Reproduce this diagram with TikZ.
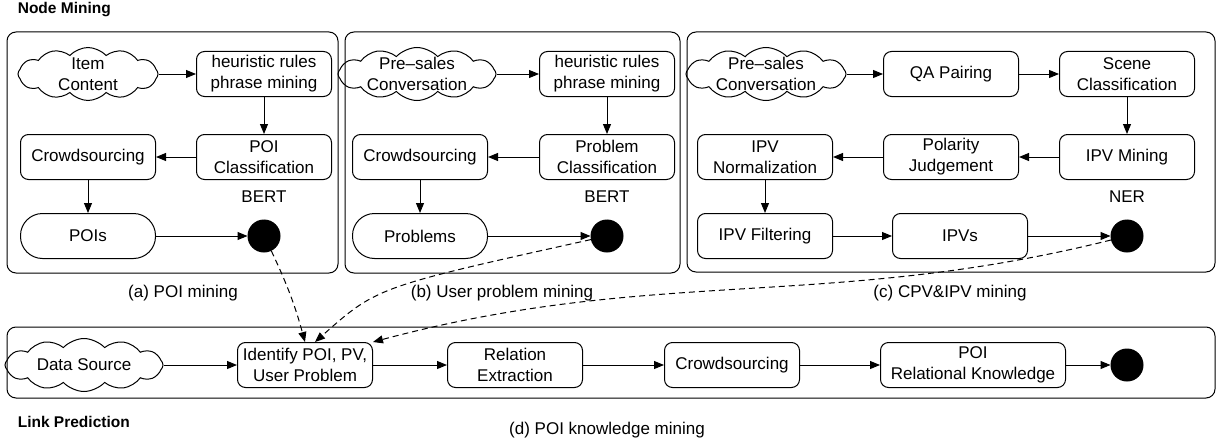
\documentclass[tikz,border=0pt]{standalone}
\usepackage{fontspec}
\setmainfont{Liberation Sans}
\usetikzlibrary{positioning,shapes.symbols,arrows.meta}

\newcommand\diagfont{\fontsize{17}{21}\selectfont}
\newcommand\headfont{\fontsize{15.5}{18}\selectfont\bfseries}

\tikzset{
  procbox/.style={draw, rectangle, rounded corners=8pt, align=center,
    minimum width=135pt, minimum height=45pt, inner sep=2pt},
  termbox/.style={procbox, rounded corners=22pt},
  srccloud/.style={draw, cloud, cloud puffs=12, cloud puff arc=95,
    cloud ignores aspect, minimum width=158pt, minimum height=53pt,
    inner sep=0pt},
  cloudtext/.style={label={[align=center]center:#1}},
  sinknode/.style={draw, circle, fill=black, minimum size=32pt, inner sep=0pt},
  panel/.style={draw, rounded corners=9pt},
  linkline/.style={dash pattern=on 6pt off 4pt},
}

\begin{document}
\begin{tikzpicture}[x=1pt, y=1pt, line width=1pt, >={Triangle[length=10pt,width=8pt]},
    every node/.style={font=\diagfont}]
        \useasboundingbox (0,0) rectangle (1225,-444);

        % Panels
        \draw [panel] (7,-32) rectangle (338,-273);
        \draw [panel] (345,-32) rectangle (680,-273);
        \draw [panel] (687,-32) rectangle (1215,-272);
        \draw [panel] (7,-327) rectangle (1215,-398);
        \node (nodetitle) [anchor=west, font=\headfont] at (14,-10) {Node Mining};
        \node (linktitle) [anchor=west, font=\headfont] at (14,-422) {Link Prediction};

        % (a) POI mining
        \node (itemsrc) [srccloud, minimum width=140pt, cloudtext={Item\\Content}] at (88,-74) {};
        \node (heurA) [procbox, right of=itemsrc, node distance=176pt] {heuristic rules\\phrase mining};
        \node (poicls) [procbox, below of=heurA, node distance=83pt] {POI\\Classification};
        \node (crowdA) [procbox, left of=poicls, node distance=176pt] {Crowdsourcing};
        \node (pois) [termbox, below of=crowdA, node distance=79pt] {POIs};
        \node (bertA) [below of=poicls, node distance=40pt] {BERT};
        \node (sinkA) [sinknode, below of=poicls, node distance=79pt] {};
        \node (capA) at (183,-293) {(a) POI mining};

        % (b) User problem mining
        \node (presaleB) [srccloud, cloudtext={Pre--sales\\Conversation}] at (417,-74) {};
        \node (heurB) [procbox, right of=presaleB, node distance=190pt] {heuristic rules\\phrase mining};
        \node (probcls) [procbox, below of=heurB, node distance=83pt] {Problem\\Classification};
        \node (crowdB) [procbox, left of=probcls, node distance=187pt] {Crowdsourcing};
        \node (problems) [termbox, below of=crowdB, node distance=79pt] {Problems};
        \node (bertB) [below of=probcls, node distance=40pt] {BERT};
        \node (sinkB) [sinknode, below of=probcls, node distance=79pt] {};
        \node (capB) at (502,-293) {(b) User problem mining};

        % (c) CPV&IPV mining
        \node (presaleC) [srccloud, minimum width=160pt, cloudtext={Pre--sales\\Conversation}] at (766,-74) {};
        \node (qapair) [procbox, right of=presaleC, node distance=185pt] {QA Pairing};
        \node (scene) [procbox, right of=qapair, node distance=176pt] {Scene\\Classification};
        \node (ipvmine) [procbox, below of=scene, node distance=83pt] {IPV Mining};
        \node (polarity) [procbox, left of=ipvmine, node distance=176pt] {Polarity\\Judgement};
        \node (ipvnorm) [procbox, left of=polarity, node distance=186pt] {IPV\\Normalization};
        \node (ipvfilt) [procbox, below of=ipvnorm, node distance=79pt] {IPV Filtering};
        \node (ipvs) [procbox, right of=ipvfilt, node distance=195pt] {IPVs};
        \node (ner) [below of=ipvmine, node distance=40pt] {NER};
        \node (sinkC) [sinknode, below of=ipvmine, node distance=79pt] {};
        \node (capC) at (950,-293) {(c) CPV\&IPV mining};

        % (d) POI knowledge mining
        \node (datasrc) [srccloud, cloudtext={Data Source}] at (84,-365) {};
        \node (ident) [procbox, right of=datasrc, node distance=221pt] {Identify POI, PV,\\User Problem};
        \node (relext) [procbox, right of=ident, node distance=210pt] {Relation\\Extraction};
        \node (crowdD) [procbox, right of=relext, node distance=217pt] {Crowdsourcing};
        \node (poirk) [procbox, minimum width=185pt, right of=crowdD, node distance=241pt] {POI\\Relational Knowledge};
        \node (sinkD) [sinknode, right of=poirk, node distance=154pt] {};
        \node (capD) at (607,-430) {(d) POI knowledge mining};

        % Arrows
        \draw [->] (itemsrc) -- (heurA);
        \draw [->] (heurA) -- (poicls);
        \draw [->] (poicls) -- (crowdA);
        \draw [->] (crowdA) -- (pois);
        \draw [->] (pois) -- (sinkA);

        \draw [->] (presaleB) -- (heurB);
        \draw [->] (heurB) -- (probcls);
        \draw [->] (probcls) -- (crowdB);
        \draw [->] (crowdB) -- (problems);
        \draw [->] (problems) -- (sinkB);

        \draw [->] (presaleC) -- (qapair);
        \draw [->] (qapair) -- (scene);
        \draw [->] (scene) -- (ipvmine);
        \draw [->] (ipvmine) -- (polarity);
        \draw [->] (polarity) -- (ipvnorm);
        \draw [->] (ipvnorm) -- (ipvfilt);
        \draw [->] (ipvfilt) -- (ipvs);
        \draw [->] (ipvs) -- (sinkC);

        \draw [->] (datasrc) -- (ident);
        \draw [->] (ident) -- (relext);
        \draw [->] (relext) -- (crowdD);
        \draw [->] (crowdD) -- (poirk);
        \draw [->] (poirk) -- (sinkD);

        % Dashed links
        \draw [->, linkline] (sinkA) to[bend left=5] (ident.north);
        \draw [->, linkline] (sinkB) .. controls (377,-287) .. ([xshift=10pt]ident.north);
        \draw [->, linkline] (sinkC) to[out=194, in=15] (ident.north east);

    \end{tikzpicture}
\end{document}
